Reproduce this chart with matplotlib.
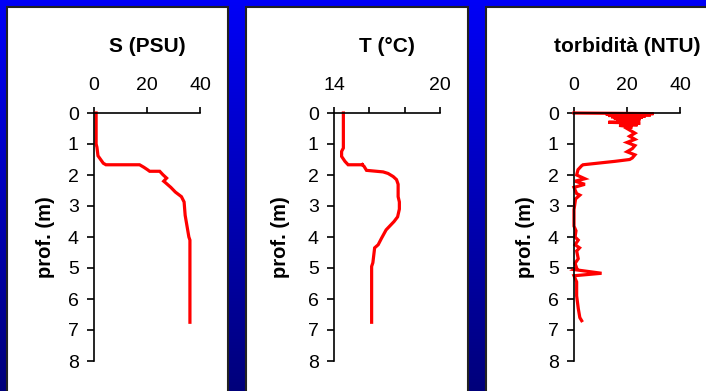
import numpy as np
import matplotlib
matplotlib.use("Agg")
import matplotlib.pyplot as plt
from matplotlib.patches import Rectangle

plt.rcParams['font.family'] = ['Liberation Sans', 'DejaVu Sans']

# ---------------- data ----------------
titles = ["S (PSU)", "T (°C)", "torbidità (NTU)"]
ylabel = "prof. (m)"

sal_depth = [0.0, 0.5, 1.0, 1.1, 1.38, 1.5, 1.62, 1.67, 1.67, 1.75, 1.83, 1.88, 1.88,
             1.99, 2.1, 2.2, 2.25, 2.4, 2.55, 2.7, 2.87, 3.3, 3.7, 4.0, 4.1, 5.0, 6.0, 6.75]
sal_val = [0.8, 0.8, 0.8, 1.1, 1.5, 2.5, 3.5, 4.5, 17.2, 18.8, 20.2, 21.0, 24.8,
           26.0, 27.4, 26.3, 27.0, 29.0, 30.7, 33.0, 34.0, 34.4, 35.2, 35.8, 36.2, 36.2, 36.2, 36.2]

temp_depth = [0.0, 0.5, 1.13, 1.24, 1.4, 1.56, 1.67, 1.67, 1.64, 1.72, 1.85, 1.9, 1.95,
              2.05, 2.15, 2.3, 2.7, 2.87, 3.1, 3.35, 3.5, 3.65, 3.77, 4.04, 4.25, 4.35,
              4.83, 4.95, 6.0, 6.75]
temp_val = [14.53, 14.53, 14.53, 14.43, 14.43, 14.62, 14.8, 15.65, 15.55, 15.7, 15.84, 16.78, 17.06,
            17.35, 17.54, 17.63, 17.63, 17.7, 17.7, 17.6, 17.4, 17.15, 16.95, 16.69, 16.5, 16.3,
            16.2, 16.13, 16.13, 16.13]

turb_depth = [0.0, 0.02, 0.04, 0.06, 0.08, 0.1, 0.12, 0.14, 0.16, 0.18, 0.2, 0.22, 0.25,
              0.28, 0.3, 0.33, 0.35, 0.38, 0.4, 0.45, 0.5, 0.55,
              0.65, 0.75, 0.85, 0.95, 1.05, 1.15, 1.25, 1.35, 1.45, 1.5, 1.56, 1.6, 1.67,
              1.7, 1.83, 2.0, 2.12, 2.2, 2.3, 2.4, 2.6, 2.65, 2.77, 3.12, 3.65, 3.8, 4.0,
              4.1, 4.25, 4.35, 4.45, 4.7, 4.85, 5.0, 5.05, 5.17, 5.25, 5.45, 5.9, 6.3,
              6.5, 6.6, 6.7]
turb_val = [0.0, 30.0, 12.0, 29.0, 13.0, 27.0, 14.0, 26.0, 15.0, 25.0, 16.0, 25.0, 17.0,
            24.0, 13.0, 25.0, 18.0, 24.0, 17.0, 22.0, 20.0, 21.0,
            23.0, 21.0, 23.0, 20.0, 23.0, 22.0, 20.0, 23.0, 22.0, 21.0, 15.4, 11.0, 3.4,
            2.9, 1.5, 1.0, 4.1, 0.4, 4.1, 0.0, 1.0, 2.2, 0.6, 0.0, 0.0, 0.75, 0.4,
            1.6, 0.4, 2.1, 1.0, 1.6, 0.4, 1.0, 0.0, 10.4, 0.0, 1.0, 1.0, 1.6,
            2.0, 2.2, 2.9]

xlims = [(0, 40), (14, 20), (0, 40)]
xticks = [[0, 20, 40], [14, 16, 18, 20], [0, 20, 40]]
xticklabels = [["0", "20", "40"], ["14", "", "", "20"], ["0", "20", "40"]]
yticks = [0, 1, 2, 3, 4, 5, 6, 7, 8]

profiles = [(sal_val, sal_depth), (temp_val, temp_depth), (turb_val, turb_depth)]

# ---------------- figure ----------------
W, H = 706, 391
fig = plt.figure(figsize=(W / 100, H / 100), dpi=100)

# gradient background
bg = fig.add_axes([0, 0, 1, 1], zorder=-5)
grad = np.linspace(0, 1, 256).reshape(-1, 1)
top = np.array([0.0, 0.0, 0.97])
bot = np.array([0.0, 0.0, 0.48])
img = top[None, None, :] * (1 - grad[:, :, None]) + bot[None, None, :] * grad[:, :, None]
bg.imshow(img, aspect='auto', extent=[0, 1, 0, 1])
bg.set_axis_off()

# white panels
panel_x = [(7, 228), (246, 468), (486, 712)]
for x0, x1 in panel_x:
    fig.patches.append(Rectangle((x0 / W, -0.05), (x1 - x0) / W, 1 - 7 / H + 0.05,
                                 transform=fig.transFigure, facecolor='white',
                                 edgecolor='#222222', linewidth=1.5, zorder=-1))

axes_left = [94, 334, 574]
label_off = [39, 44, 39]
ax_w = 106
ax_top, ax_bot = 113, 361

for i in range(3):
    l = axes_left[i]
    ax = fig.add_axes([l / W, (H - ax_bot) / H, ax_w / W, (ax_bot - ax_top) / H], zorder=5)
    ax.patch.set_alpha(0)
    x, d = profiles[i]
    ax.plot(x, d, color='#ff0000', lw=2.3, solid_joinstyle='miter', clip_on=False)
    ax.set_xlim(*xlims[i])
    ax.set_ylim(8, 0)
    ax.xaxis.tick_top()
    ax.set_xticks(xticks[i])
    ax.set_xticklabels(xticklabels[i])
    ax.set_yticks(yticks)
    for s in ['right', 'bottom']:
        ax.spines[s].set_visible(False)
    for s in ['left', 'top']:
        ax.spines[s].set_linewidth(1.2)
    ax.tick_params(axis='x', which='both', direction='out', length=4, width=1.2,
                   pad=10, labelsize=14, top=True, bottom=False)
    ax.tick_params(axis='y', direction='out', length=5, width=1.2, pad=6, labelsize=14)
    ax.set_ylabel(ylabel, fontsize=14.5, fontweight='bold')
    ax.yaxis.set_label_coords(-label_off[i] / ax_w, 0.5)
    fig.text((l + ax_w / 2) / W, 1 - 47 / H, titles[i], ha='center', va='center',
             fontsize=15, fontweight='bold', zorder=6)

fig.savefig('out.png', dpi=100)
